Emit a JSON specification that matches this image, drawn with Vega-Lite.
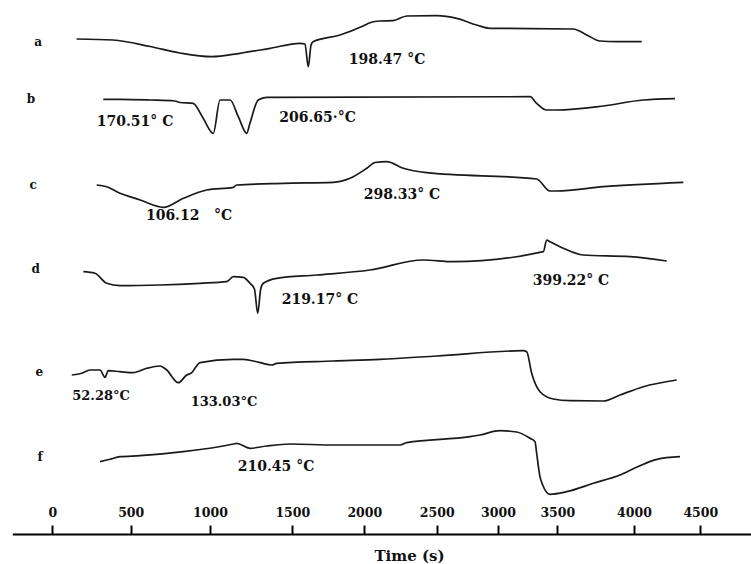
{
  "$schema": "https://vega.github.io/schema/vega-lite/v6.json",
  "width": 751,
  "height": 564,
  "padding": 0,
  "autosize": "none",
  "background": "white",
  "view": {"stroke": null},
  "config": {"text": {"font": "DejaVu Serif", "fontWeight": "bold", "color": "#111"}},
  "datasets": {
    "curves": [
      {"s":"a","t":155,"hf":525},{"s":"a","t":387,"hf":524},{"s":"a","t":623,"hf":517.5},{"s":"a","t":811,"hf":511},{"s":"a","t":1010,"hf":507.3},{"s":"a","t":1182,"hf":510.7},{"s":"a","t":1365,"hf":515.7},{"s":"a","t":1553,"hf":520.7},{"s":"a","t":1588,"hf":520},{"s":"a","t":1611,"hf":497.3},{"s":"a","t":1630,"hf":519},{"s":"a","t":1644,"hf":522.3},{"s":"a","t":1831,"hf":529},{"s":"a","t":1991,"hf":538},{"s":"a","t":2039,"hf":541.3},{"s":"a","t":2108,"hf":543},{"s":"a","t":2198,"hf":543.3},{"s":"a","t":2293,"hf":548},{"s":"a","t":2500,"hf":548.3},{"s":"a","t":2663,"hf":545.7},{"s":"a","t":2826,"hf":539},{"s":"a","t":2935,"hf":535.7},{"s":"a","t":3604,"hf":535},{"s":"a","t":3692,"hf":529},{"s":"a","t":3778,"hf":523},{"s":"a","t":3887,"hf":522.3},{"s":"a","t":4058,"hf":522.3},
      {"s":"b","t":325,"hf":464.7},{"s":"b","t":432,"hf":464.7},{"s":"b","t":623,"hf":464},{"s":"b","t":779,"hf":463},{"s":"b","t":811,"hf":461.5},{"s":"b","t":893,"hf":460.7},{"s":"b","t":956,"hf":446},{"s":"b","t":1020,"hf":430.7},{"s":"b","t":1061,"hf":464},{"s":"b","t":1122,"hf":464},{"s":"b","t":1172,"hf":447.3},{"s":"b","t":1223,"hf":430.7},{"s":"b","t":1243,"hf":441},{"s":"b","t":1293,"hf":464},{"s":"b","t":1344,"hf":466.7},{"s":"b","t":3270,"hf":467.3},{"s":"b","t":3326,"hf":460.7},{"s":"b","t":3411,"hf":454},{"s":"b","t":3495,"hf":454},{"s":"b","t":3800,"hf":458},{"s":"b","t":4070,"hf":464},{"s":"b","t":4309,"hf":465.3},
      {"s":"c","t":283,"hf":379},{"s":"c","t":347,"hf":377.3},{"s":"c","t":411,"hf":372.3},{"s":"c","t":559,"hf":364},{"s":"c","t":706,"hf":356.7},{"s":"c","t":832,"hf":365.7},{"s":"c","t":979,"hf":374},{"s":"c","t":1142,"hf":376.7},{"s":"c","t":1162,"hf":379},{"s":"c","t":1445,"hf":380.7},{"s":"c","t":1785,"hf":381.7},{"s":"c","t":1901,"hf":385.7},{"s":"c","t":2017,"hf":395.7},{"s":"c","t":2074,"hf":401.5},{"s":"c","t":2155,"hf":402.3},{"s":"c","t":2269,"hf":395.7},{"s":"c","t":2431,"hf":391.3},{"s":"c","t":3326,"hf":385},{"s":"c","t":3438,"hf":373},{"s":"c","t":3495,"hf":373},{"s":"c","t":3800,"hf":377.3},{"s":"c","t":4372,"hf":381.7},
      {"s":"d","t":198,"hf":292.3},{"s":"d","t":272,"hf":290.7},{"s":"d","t":347,"hf":280.7},{"s":"d","t":432,"hf":278.3},{"s":"d","t":685,"hf":279},{"s":"d","t":937,"hf":280.7},{"s":"d","t":1101,"hf":282.3},{"s":"d","t":1142,"hf":287.3},{"s":"d","t":1202,"hf":286.7},{"s":"d","t":1243,"hf":280.7},{"s":"d","t":1270,"hf":275},{"s":"d","t":1290,"hf":250.7},{"s":"d","t":1308,"hf":275},{"s":"d","t":1324,"hf":280.7},{"s":"d","t":1405,"hf":285.7},{"s":"d","t":1669,"hf":289},{"s":"d","t":2039,"hf":294},{"s":"d","t":2407,"hf":304},{"s":"d","t":2635,"hf":302.3},{"s":"d","t":3382,"hf":312.3},{"s":"d","t":3411,"hf":324},{"s":"d","t":3438,"hf":322.3},{"s":"d","t":3539,"hf":315.7},{"s":"d","t":3669,"hf":309},{"s":"d","t":3974,"hf":307.3},{"s":"d","t":4247,"hf":303},
      {"s":"e","t":124,"hf":189},{"s":"e","t":188,"hf":190.7},{"s":"e","t":240,"hf":194},{"s":"e","t":304,"hf":194},{"s":"e","t":336,"hf":186.7},{"s":"e","t":357,"hf":193.3},{"s":"e","t":432,"hf":192.3},{"s":"e","t":516,"hf":191.3},{"s":"e","t":601,"hf":195.7},{"s":"e","t":685,"hf":198},{"s":"e","t":727,"hf":194},{"s":"e","t":800,"hf":181.3},{"s":"e","t":853,"hf":189},{"s":"e","t":885,"hf":191.3},{"s":"e","t":905,"hf":195.7},{"s":"e","t":937,"hf":201.3},{"s":"e","t":1142,"hf":204.7},{"s":"e","t":1202,"hf":204.7},{"s":"e","t":1304,"hf":201.3},{"s":"e","t":1375,"hf":199},{"s":"e","t":1405,"hf":200.7},{"s":"e","t":1785,"hf":203},{"s":"e","t":2108,"hf":204.7},{"s":"e","t":2500,"hf":208},{"s":"e","t":3213,"hf":213.3},{"s":"e","t":3242,"hf":212.3},{"s":"e","t":3284,"hf":190.7},{"s":"e","t":3354,"hf":172.3},{"s":"e","t":3466,"hf":165},{"s":"e","t":3583,"hf":163.3},{"s":"e","t":3800,"hf":163},{"s":"e","t":3909,"hf":169},{"s":"e","t":4070,"hf":177.3},{"s":"e","t":4322,"hf":184},
      {"s":"f","t":304,"hf":102.3},{"s":"f","t":368,"hf":104.7},{"s":"f","t":432,"hf":107.3},{"s":"f","t":559,"hf":108.3},{"s":"f","t":832,"hf":112.3},{"s":"f","t":1142,"hf":120},{"s":"f","t":1162,"hf":120.7},{"s":"f","t":1243,"hf":115.7},{"s":"f","t":1344,"hf":118},{"s":"f","t":1486,"hf":120},{"s":"f","t":1785,"hf":119},{"s":"f","t":2247,"hf":119},{"s":"f","t":2293,"hf":121.3},{"s":"f","t":2772,"hf":127.3},{"s":"f","t":2853,"hf":129},{"s":"f","t":3017,"hf":133.3},{"s":"f","t":3158,"hf":132},{"s":"f","t":3270,"hf":125.7},{"s":"f","t":3312,"hf":122.3},{"s":"f","t":3326,"hf":110.7},{"s":"f","t":3354,"hf":87.3},{"s":"f","t":3377,"hf":79},{"s":"f","t":3438,"hf":69.7},{"s":"f","t":3561,"hf":72.3},{"s":"f","t":3735,"hf":80.7},{"s":"f","t":3909,"hf":89},{"s":"f","t":4023,"hf":97},{"s":"f","t":4173,"hf":104.7},{"s":"f","t":4347,"hf":107.3}
    ],
    "labels": [
      {"s":"a","t":-91,"hf":522},{"s":"b","t":-136,"hf":465},{"s":"c","t":-122,"hf":379},
      {"s":"d","t":-106,"hf":295},{"s":"e","t":-83,"hf":192},{"s":"f","t":-78,"hf":107}
    ],
    "notes": [
      {"text":"198.47 °C","t":2157,"hf":504,"size":14},
      {"text":"170.51° C","t":527,"hf":442.3,"size":14},
      {"text":"206.65·°C","t":1675,"hf":445.7,"size":14},
      {"text":"106.12\u00a0\u00a0\u00a0°C","t":868,"hf":348,"size":14},
      {"text":"298.33° C","t":2260,"hf":369,"size":14},
      {"text":"219.17° C","t":1692,"hf":264,"size":14},
      {"text":"399.22° C","t":3589,"hf":283.3,"size":14},
      {"text":"52.28°C","t":311,"hf":168,"size":13},
      {"text":"133.03°C","t":1085,"hf":162.3,"size":13},
      {"text":"210.45 °C","t":1401,"hf":97.3,"size":14}
    ]
  },
  "layer": [
    {
      "data": {"name": "curves"},
      "mark": {"type": "line", "color": "#1a1a1a", "strokeWidth": 1.7, "interpolate": "monotone"},
      "encoding": {
        "x": {
          "field": "t", "type": "quantitative",
          "scale": {
            "domain": [-255, 0, 500, 1000, 1500, 2000, 2500, 3000, 3500, 4000, 4500, 4882],
            "range": [12.3, 52.3, 130.7, 210, 292.3, 364.3, 436.7, 498, 557.3, 634, 700.3, 751],
            "nice": false, "zero": false
          },
          "axis": {
            "orient": "top", "offset": -534,
            "values": [0, 500, 1000, 1500, 2000, 2500, 3000, 3500, 4000, 4500],
            "format": "d",
            "grid": false,
            "domainColor": "#000", "domainWidth": 1.8,
            "ticks": true, "tickColor": "#000", "tickWidth": 2, "tickSize": 9, "tickOpacity": 1,
            "labelFont": "DejaVu Serif", "labelFontWeight": "bold", "labelFontSize": 12.5, "labelColor": "#111",
            "labelBaseline": "alphabetic", "labelPadding": 9, "labelFlush": false, "labelOverlap": false,
            "title": "Time (s)",
            "titleFont": "DejaVu Serif", "titleFontWeight": "bold", "titleFontSize": 15, "titleColor": "#111",
            "titleX": 409, "titleY": 26, "titleAlign": "center", "titleBaseline": "alphabetic", "titleAngle": 0
          }
        },
        "y": {"field": "hf", "type": "quantitative", "scale": {"domain": [0, 564], "nice": false, "zero": false}, "axis": null},
        "detail": {"field": "s"}
      }
    },
    {
      "data": {"name": "labels"},
      "mark": {"type": "text", "fontSize": 12, "align": "center", "baseline": "middle"},
      "encoding": {
        "x": {"field": "t", "type": "quantitative"},
        "y": {"field": "hf", "type": "quantitative"},
        "text": {"field": "s"}
      }
    },
    {
      "data": {"name": "notes"},
      "mark": {"type": "text", "align": "center", "baseline": "middle"},
      "encoding": {
        "x": {"field": "t", "type": "quantitative"},
        "y": {"field": "hf", "type": "quantitative"},
        "text": {"field": "text"},
        "size": {"field": "size", "type": "quantitative", "scale": null}
      }
    }
  ]
}
